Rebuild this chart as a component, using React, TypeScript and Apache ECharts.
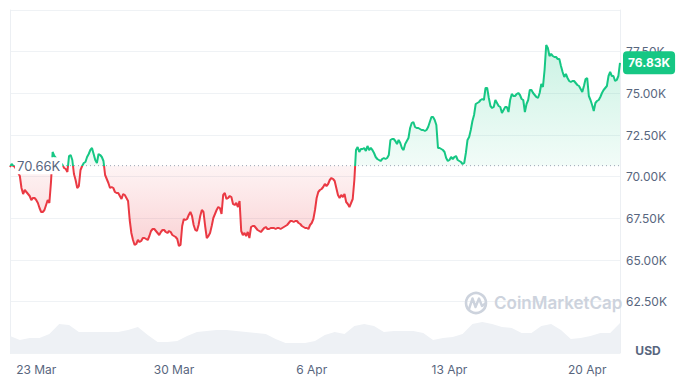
import React, { useEffect, useRef } from "react";
import * as echarts from "echarts";

// ---- data ----
const BASE_PRICE = 70660;
const LAST_PRICE = 76830;
const START_UTC = Date.UTC(2024, 2, 21, 16); // first sample
const STEP_HOURS = 2;
const MONTHS = ["Jan", "Feb", "Mar", "Apr", "May", "Jun", "Jul", "Aug", "Sep", "Oct", "Nov", "Dec"];
const X_TICKS = ["23 Mar", "30 Mar", "6 Apr", "13 Apr", "20 Apr"];
const Y_TICKS = [62500, 65000, 67500, 70000, 72500, 75000, 77500];

const PRICES = [
  70580, 70760, 70640, 70580, 70400, 70220, 70040, 69320, 68960, 69200,
  69080, 68960, 68840, 68600, 68720, 68720, 68600, 68420, 68120, 67880,
  67880, 68000, 68300, 68600, 68420, 69680, 71480, 71240, 71120, 71000,
  70880, 70820, 70700, 70520, 70460, 70280, 71240, 71300, 71000, 70160,
  69800, 69320, 69440, 70400, 70640, 70820, 70880, 71180, 71360, 71600,
  71720, 71360, 71000, 70820, 71360, 71300, 71180, 70940, 70100, 69860,
  69620, 69320, 69380, 69320, 69080, 69020, 69020, 68840, 68660, 68960,
  68900, 68720, 68540, 67400, 66620, 66200, 65900, 65960, 66200, 66080,
  66140, 66320, 66320, 66260, 66200, 66440, 66740, 66860, 66860, 66740,
  66620, 66500, 66680, 66800, 66800, 66680, 66620, 66740, 66680, 66500,
  66440, 66380, 66260, 65840, 65900, 67040, 67460, 67400, 67460, 67700,
  67880, 67640, 67100, 66800, 66740, 67100, 67640, 68000, 67880, 67040,
  66320, 66440, 66620, 67040, 67520, 67760, 68000, 68180, 68120, 67760,
  68900, 69020, 68660, 68720, 68840, 68780, 68360, 68300, 68420, 68180,
  68540, 66740, 66500, 66620, 66440, 66680, 66320, 66980, 67040, 67040,
  66920, 66800, 66740, 66680, 66800, 66920, 66980, 66860, 66860, 66920,
  66920, 66920, 66860, 66920, 66920, 66860, 66920, 66980, 67040, 67100,
  67220, 67340, 67340, 67280, 67340, 67340, 67220, 67160, 67040, 66980,
  66920, 66920, 66860, 67100, 67220, 67460, 68000, 68720, 69080, 69200,
  69260, 69380, 69560, 69440, 69560, 69800, 69920, 69860, 69740, 69320,
  68900, 68720, 68900, 68780, 68960, 68480, 68360, 68180, 68420, 68660,
  69800, 71600, 71780, 71480, 71660, 71660, 71720, 71540, 71840, 71600,
  71720, 71600, 71420, 71180, 71060, 71000, 70940, 71060, 71120, 71060,
  71120, 71300, 72200, 72260, 72260, 72140, 71960, 72200, 72020, 71720,
  71600, 71960, 72140, 72320, 72920, 73220, 73280, 72980, 72920, 72920,
  72860, 72800, 72800, 72740, 72800, 72980, 73280, 73580, 73580, 73400,
  73100, 71720, 71720, 71660, 71600, 71480, 71120, 70940, 71000, 71180,
  71060, 71180, 71240, 71000, 70940, 70880, 70760, 70820, 71420, 72200,
  72380, 72800, 73340, 73700, 74360, 74420, 74480, 74600, 74660, 74600,
  75320, 75320, 74720, 74240, 74120, 74180, 74600, 74420, 74240, 74180,
  73820, 74000, 74180, 74180, 73880, 74600, 74960, 74840, 74840, 74960,
  75020, 74900, 74660, 74600, 73880, 74360, 74600, 75200, 75200, 75020,
  74900, 74780, 74720, 75020, 75560, 75380, 76400, 77900, 77720, 77240,
  77360, 77240, 77180, 77180, 77060, 77060, 76640, 76280, 75980, 76160,
  75920, 75740, 75680, 75740, 75740, 75620, 75500, 75440, 75260, 75080,
  75440, 75860, 75920, 74840, 74600, 74300, 73940, 74420, 74540, 74600,
  74780, 75020, 75200, 75320, 75440, 76040, 76280, 76040, 76040, 75740,
  75800, 76040, LAST_PRICE,
];

// volume, one value every 12 hours (every 6th price sample), relative units
const VOLUME_STEP = 6;
const VOLUME = [
  17, 13, 15, 15, 19, 29, 28, 21, 21, 21,
  21, 21, 23, 26, 18, 11, 11, 12, 17, 21,
  22, 23, 23, 22, 21, 20, 19, 14, 10, 10,
  10, 12, 18, 21, 19, 27, 29, 27, 21, 22,
  22, 22, 20, 13, 15, 16, 19, 29, 31, 29,
  26, 25, 20, 20, 27, 29, 23, 14, 15, 17,
  20, 20, 30,
];

const GREEN = "#16c784";
const RED = "#ea3943";
const LABEL = "#58667e";
const GRID = "#eff2f5";
const FONT = "Inter, 'Noto Sans', sans-serif";

const pad = (n: number) => (n < 10 ? "0" + n : "" + n);
const CATEGORIES = PRICES.map((_, i) => {
  const d = new Date(START_UTC + i * STEP_HOURS * 3600 * 1000);
  return `${d.getUTCDate()} ${MONTHS[d.getUTCMonth()]} ${pad(d.getUTCHours())}:00`;
});

export default function App() {
  const ref = useRef<HTMLDivElement>(null);

  useEffect(() => {
    if (!ref.current) return;
    const chart = echarts.init(ref.current, null, { renderer: "svg" });
    const fmtK = (v: number) => (v / 1000).toFixed(2) + "K";

    chart.setOption({
      animation: false,
      textStyle: { fontFamily: FONT },
      grid: { left: 10, right: 59, top: 10, bottom: 38, containLabel: false },
      visualMap: {
        type: "piecewise",
        show: false,
        seriesIndex: 3,
        dimension: 1,
        pieces: [
          { gt: BASE_PRICE, lte: 1000000, color: GREEN },
          { gt: 0, lte: BASE_PRICE, color: RED },
        ],
      },
      xAxis: {
        type: "category",
        data: CATEGORIES,
        boundaryGap: false,
        axisLine: { show: false },
        axisTick: { show: false },
        splitLine: { show: false },
        axisLabel: {
          color: LABEL,
          fontSize: 12,
          margin: 10,
          interval: (_i: number, v: string) =>
            v.endsWith(" 00:00") && X_TICKS.includes(v.replace(" 00:00", "")),
          formatter: (v: string) => v.replace(" 00:00", ""),
        },
      },
      yAxis: [
        {
          type: "value",
          position: "right",
          min: 59420,
          max: 80000,
          minInterval: 2500,
          maxInterval: 2500,
          axisLine: { show: true, lineStyle: { color: "#eceff3" } },
          axisTick: { show: false },
          splitLine: { lineStyle: { color: GRID, width: 1 } },
          axisLabel: {
            color: LABEL,
            fontSize: 12,
            margin: 6,
            formatter: (v: number) => (Y_TICKS.includes(v) ? fmtK(v) : ""),
          },
        },
        {
          type: "value",
          position: "left",
          min: 0,
          max: 343,
          axisLine: { show: true, lineStyle: { color: "#eceff3" } },
          axisTick: { show: false },
          axisLabel: { show: false },
          splitLine: { show: false },
        },
      ],
      series: [
        {
          name: "Volume",
          type: "line",
          yAxisIndex: 1,
          data: VOLUME.map((v, k) => [k * VOLUME_STEP, v]),
          symbol: "none",
          lineStyle: { width: 0 },
          areaStyle: { color: "#eef1f5", opacity: 1 },
          z: 1,
        },
        {
          name: "above",
          type: "line",
          data: PRICES.map((p) => Math.max(p, BASE_PRICE)),
          symbol: "none",
          lineStyle: { width: 0 },
          areaStyle: {
            origin: BASE_PRICE,
            color: new echarts.graphic.LinearGradient(0, 0, 0, 1, [
              { offset: 0, color: "rgba(22,199,132,0.32)" },
              { offset: 1, color: "rgba(22,199,132,0.08)" },
            ]),
          },
          z: 2,
        },
        {
          name: "below",
          type: "line",
          data: PRICES.map((p) => Math.min(p, BASE_PRICE)),
          symbol: "none",
          lineStyle: { width: 0 },
          areaStyle: {
            origin: BASE_PRICE,
            color: new echarts.graphic.LinearGradient(0, 0, 0, 1, [
              { offset: 0, color: "rgba(234,57,67,0.08)" },
              { offset: 1, color: "rgba(234,57,67,0.32)" },
            ]),
          },
          z: 2,
        },
        {
          name: "Price",
          type: "line",
          data: PRICES,
          symbol: "none",
          lineStyle: { width: 2 },
          z: 5,
          endLabel: {
            show: true,
            formatter: () => fmtK(LAST_PRICE),
            distance: 3,
            color: "#ffffff",
            fontWeight: "bold",
            fontSize: 12,
            backgroundColor: GREEN,
            borderRadius: 4,
            padding: [6, 5, 5, 5],
          },
        },
      ],
    });

    // reference line + labels placed through the chart's own scales
    const yBase = chart.convertToPixel({ yAxisIndex: 0 }, BASE_PRICE) as number;
    const x0 = chart.convertToPixel({ xAxisIndex: 0 }, 0) as number;
    const x1 = chart.convertToPixel({ xAxisIndex: 0 }, PRICES.length - 1) as number;
    const yBottom = chart.convertToPixel({ yAxisIndex: 1 }, 0) as number;

    chart.setOption({
      graphic: [
        {
          type: "line",
          shape: { x1: x0, y1: yBase, x2: x1 + 2, y2: yBase },
          style: { stroke: "#9aa3b2", lineWidth: 1, lineDash: [1, 3] },
          z: 3,
        },
        {
          type: "text",
          x: x0 + 5,
          y: yBase,
          style: {
            text: fmtK(BASE_PRICE),
            fill: LABEL,
            font: `13px ${FONT}`,
            verticalAlign: "middle",
            backgroundColor: "#ffffff",
            padding: [2, 2],
          },
          z: 20,
        },
        {
          type: "circle",
          shape: { cx: 476, cy: 303, r: 10 },
          style: { fill: "none", stroke: "#cdd3dd", lineWidth: 2.6 },
          z: 10,
        },
        {
          type: "polyline",
          shape: {
            points: [
              [469, 309],
              [472.5, 298.5],
              [475.5, 307],
              [479, 298.5],
              [482, 306],
              [486, 303],
            ],
          },
          style: { fill: "none", stroke: "#cdd3dd", lineWidth: 2.4, lineJoin: "round" },
          z: 10,
        },
        {
          type: "text",
          x: 494,
          y: 303,
          style: {
            text: "CoinMarketCap",
            fill: "#cdd3dd",
            font: `600 17px ${FONT}`,
            verticalAlign: "middle",
          },
          z: 10,
        },
        {
          type: "text",
          x: x1 + 28,
          y: yBottom - 3,
          style: {
            text: "USD",
            fill: LABEL,
            font: `bold 12px ${FONT}`,
            align: "center",
            verticalAlign: "middle",
          },
        },
      ],
    });

    return () => chart.dispose();
  }, []);

  return <div ref={ref} style={{ width: 679, height: 391, position: "absolute", left: 0, top: 0 }} />;
}
